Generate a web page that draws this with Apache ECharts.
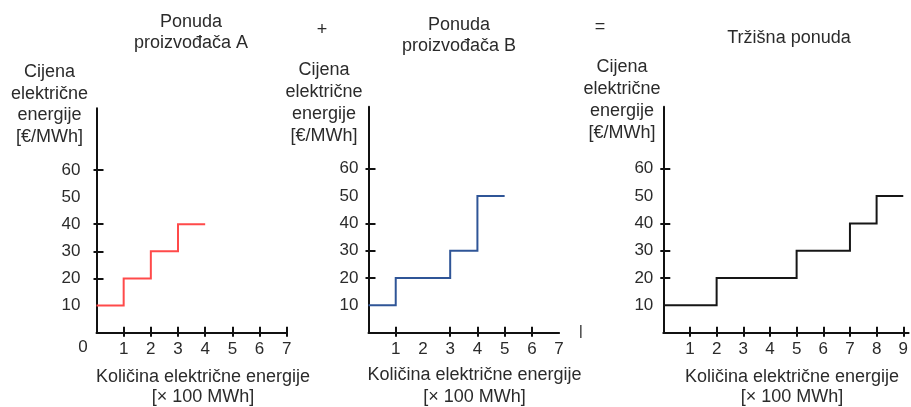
<!DOCTYPE html>
<html>
<head>
<meta charset="utf-8">
<title>Ponuda električne energije</title>
<script src="https://cdn.jsdelivr.net/npm/echarts@6/dist/echarts.min.js"></script>
<style>
  html, body { margin: 0; padding: 0; background: #ffffff; }
  #chart { width: 911px; height: 407px; }
</style>
</head>
<body>
<div id="chart"></div>
<script>
// Offer blocks: quantity of each block [× 100 MWh] and its price [€/MWh]
const blockQtyA = [1, 1, 1, 1];
const blockPriceA = [10, 20, 30, 40];
const blockQtyB = [1, 2, 1, 1];
const blockPriceB = [10, 20, 30, 50];
const blockQtyMarket = [2, 3, 2, 1, 1];
const blockPriceMarket = [10, 20, 30, 40, 50];

// Axis tick / label values
const priceLabels = [10, 20, 30, 40, 50, 60];
const priceTicks = [20, 30, 40, 60];
const qtyLabelsA = [1, 2, 3, 4, 5, 6, 7];
const qtyTicksA = [1, 2, 3, 4, 5, 6, 7];
const qtyLabelsB = [1, 2, 3, 4, 5, 6, 7];
const qtyTicksB = [1, 3, 4, 5, 6];
const qtyLabelsMarket = [1, 2, 3, 4, 5, 6, 7, 8, 9];
const qtyTicksMarket = [1, 2, 3, 4, 5, 6, 7, 8, 9];

const FONT = '"Liberation Sans", Arial, sans-serif';
const FS = 17;      // tick labels
const FS_TEXT = 18; // titles and axis names
const TEXT = '#2b2b2b';
const INK = '#111111';

// Turn offer blocks into a stepped supply curve (horizontal run per block)
function supplyCurve(qty, price) {
  const pts = [];
  let cum = 0;
  for (let i = 0; i < qty.length; i++) {
    pts.push([cum, price[i]]);
    cum += qty[i];
    pts.push([cum, price[i]]);
  }
  return pts;
}

const panels = [
  { grid: { left: 96.5, top: 108.3, width: 190.2, height: 224.4 }, xMax: 7,
    xLabels: qtyLabelsA, xTicks: qtyTicksA, yMargin: 16,
    data: supplyCurve(blockQtyA, blockPriceA), color: '#ff4a4a' },
  { grid: { left: 368.5, top: 106.7, width: 190.6, height: 226 }, xMax: 7,
    xLabels: qtyLabelsB, xTicks: qtyTicksB, yMargin: 10,
    data: supplyCurve(blockQtyB, blockPriceB), color: '#2f5597' },
  { grid: { left: 663.3, top: 106.7, width: 248, height: 226 }, xMax: 9.2,
    xLabels: qtyLabelsMarket, xTicks: qtyTicksMarket, yMargin: 10,
    data: supplyCurve(blockQtyMarket, blockPriceMarket), color: '#161616' }
];

const Y_MAX = 82.7;
const grids = [], xAxes = [], yAxes = [], series = [];

panels.forEach((p, i) => {
  grids.push(Object.assign({ containLabel: false }, p.grid));
  // main x axis: line, labels, inner part of the ticks
  xAxes.push({
    type: 'value', gridIndex: i, position: 'bottom', min: 0, max: p.xMax,
    axisLine: { show: true, onZero: false, lineStyle: { color: INK, width: 2 } },
    axisTick: { show: true, inside: true, length: 6, customValues: p.xTicks,
                lineStyle: { color: INK, width: 2 } },
    axisLabel: { show: true, customValues: p.xLabels, margin: 8, color: TEXT,
                 fontSize: FS, fontFamily: FONT },
    splitLine: { show: false }
  });
  // companion x axis: outer part of the ticks
  xAxes.push({
    type: 'value', gridIndex: i, position: 'bottom', min: 0, max: p.xMax,
    axisLine: { show: false },
    axisTick: { show: true, inside: false, length: 4, customValues: p.xTicks,
                lineStyle: { color: INK, width: 2 } },
    axisLabel: { show: false },
    splitLine: { show: false }
  });
  yAxes.push({
    type: 'value', gridIndex: i, position: 'left', min: 0, max: Y_MAX,
    axisLine: { show: true, onZero: false, lineStyle: { color: INK, width: 2 } },
    axisTick: { show: true, inside: true, length: 7, customValues: priceTicks,
                lineStyle: { color: INK, width: 2 } },
    axisLabel: { show: true, customValues: priceLabels, margin: p.yMargin, color: TEXT,
                 fontSize: FS, fontFamily: FONT },
    splitLine: { show: false }
  });
  yAxes.push({
    type: 'value', gridIndex: i, position: 'left', min: 0, max: Y_MAX,
    axisLine: { show: false },
    axisTick: { show: true, inside: false, length: 3, customValues: priceTicks,
                lineStyle: { color: INK, width: 2 } },
    axisLabel: { show: false },
    splitLine: { show: false }
  });
  series.push({
    type: 'line', xAxisIndex: 2 * i, yAxisIndex: 2 * i, data: p.data,
    symbol: 'none', silent: true, z: 3,
    lineStyle: { color: p.color, width: 2, cap: 'butt', join: 'miter' }
  });
});

function label(text, x, top, lineHeight, size) {
  return {
    type: 'text', x: x, y: top, silent: true,
    style: { text: text, fill: TEXT, fontSize: size || FS_TEXT, fontFamily: FONT,
             textAlign: 'center', textVerticalAlign: 'top', lineHeight: lineHeight }
  };
}

const graphics = [
  label('Ponuda\nproizvođača A', 191, 10.8, 21.5),
  label('+', 322, 20, 20),
  label('Ponuda\nproizvođača B', 459, 14.2, 21.5),
  label('=', 600, 17, 20),
  label('Tržišna ponuda', 789, 27.5, 21),
  label('Cijena\nelektrične\nenergije\n[€/MWh]', 49.5, 61, 21.7),
  label('Cijena\nelektrične\nenergije\n[€/MWh]', 324, 59, 21.9),
  label('Cijena\nelektrične\nenergije\n[€/MWh]', 622, 56, 22),
  label('Količina električne energije\n[× 100 MWh]', 203, 366.5, 20.5),
  label('Količina električne energije\n[× 100 MWh]', 474.5, 364.5, 21.5),
  label('Količina električne energije\n[× 100 MWh]', 792, 367.5, 20),
  label('0', 83, 337, 20, FS),
  { type: 'rect', silent: true, shape: { x: 580, y: 325, width: 1.6, height: 13 },
    style: { fill: '#555555' } }
];

const chart = echarts.init(document.getElementById('chart'), null, { renderer: 'canvas' });
chart.setOption({
  animation: false,
  backgroundColor: '#ffffff',
  grid: grids,
  xAxis: xAxes,
  yAxis: yAxes,
  series: series,
  graphic: graphics
});
</script>
</body>
</html>
